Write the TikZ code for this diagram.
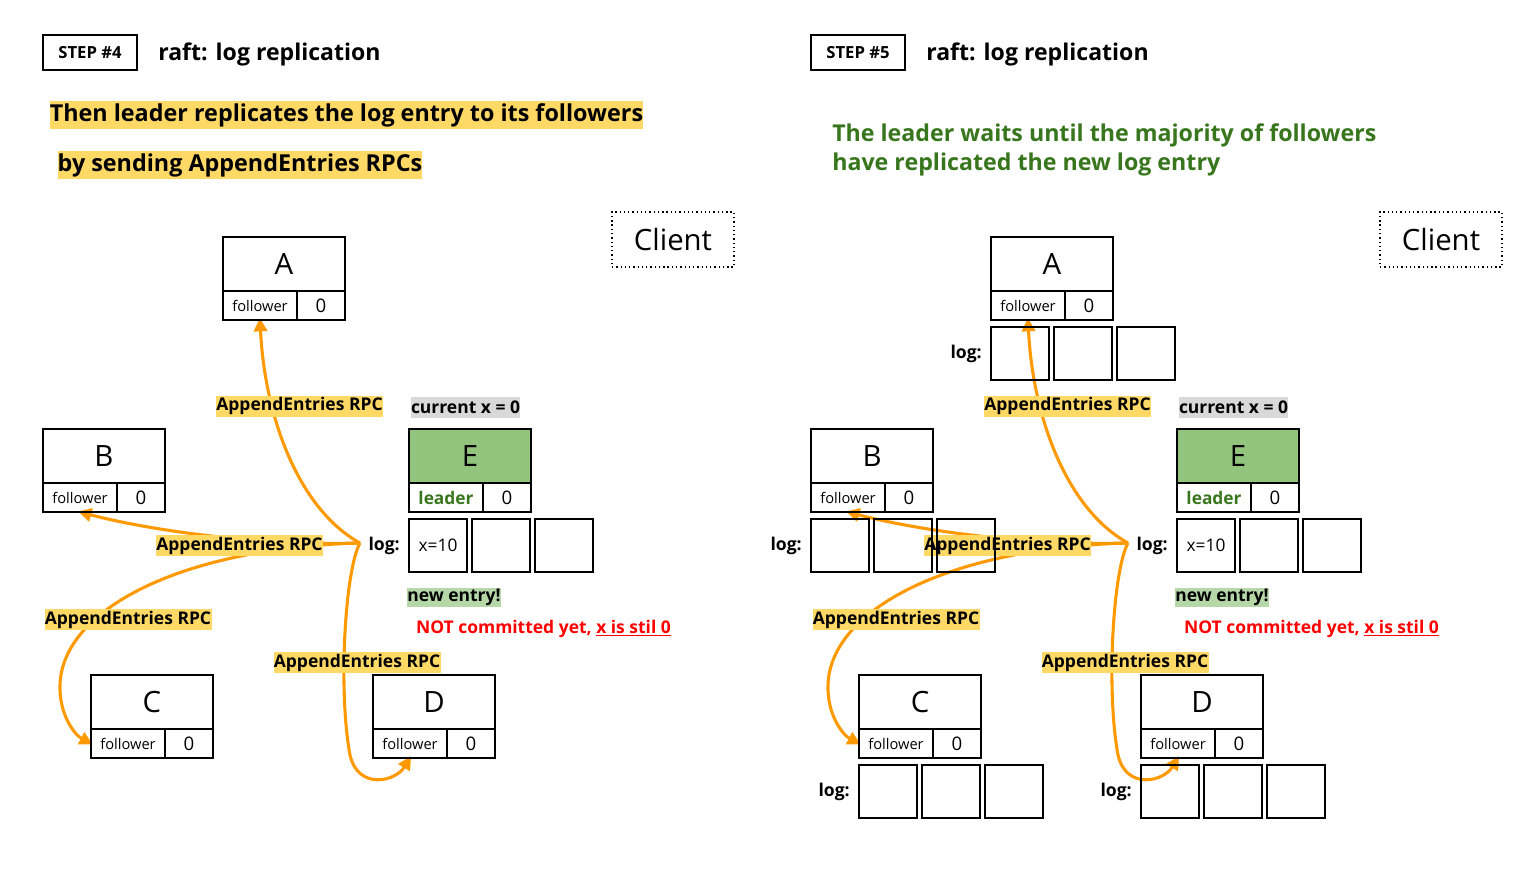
\documentclass[tikz,border=0pt]{standalone}
\usepackage{fontspec}
\setmainfont{Open Sans}
\usetikzlibrary{arrows.meta,positioning,backgrounds}
\definecolor{rpcyellow}{HTML}{FFD966}
\definecolor{rpcorange}{HTML}{FF9900}
\definecolor{leadergreen}{HTML}{93C47D}
\definecolor{textgreen}{HTML}{38761D}
\definecolor{newgreen}{HTML}{B6D7A8}
\definecolor{curgray}{HTML}{D9D9D9}

\begin{document}
\begin{tikzpicture}[x=0.75pt,y=-0.75pt,
    srvbox/.style={draw,line width=0.8pt,inner sep=0pt,outer sep=0pt},
    srvname/.style={srvbox,minimum width=91.5pt,minimum height=40.5pt,font=\fontsize{22}{26}\selectfont},
    srvrole/.style={srvbox,minimum width=55.5pt,minimum height=21.75pt,anchor=north west,font=\fontsize{11}{13}\selectfont},
    srvterm/.style={srvbox,minimum width=36pt,minimum height=21.75pt,anchor=north west,font=\fontsize{14}{16}\selectfont},
    logcell/.style={srvbox,minimum width=43.5pt,minimum height=39.75pt,font=\fontsize{13}{15}\selectfont},
    loglabel/.style={inner sep=0pt,font=\fontsize{13.2}{15}\selectfont\bfseries},
    rpclabel/.style={fill=rpcyellow,inner sep=0pt,minimum width=125.25pt,minimum height=15.75pt,font=\fontsize{13.1}{15}\selectfont\bfseries},
    rpcarrow/.style={draw=rpcorange,line width=2.3pt,-{Triangle[length=10pt,width=10pt]},shorten >=-1.5pt},
    stepbox/.style={draw,line width=0.8pt,minimum width=70.5pt,minimum height=26.25pt,inner sep=0pt,font=\fontsize{12.5}{14}\selectfont\bfseries},
    headline/.style={anchor=west,inner sep=0pt,font=\fontsize{17.3}{21}\selectfont\bfseries},
    marker/.style={inner sep=0pt,minimum height=21pt,font=\fontsize{17.5}{21}\selectfont\bfseries},
    clientbox/.style={draw,line width=0.9pt,dash pattern=on 1pt off 2.2pt,minimum width=91.5pt,minimum height=41.25pt,font=\fontsize{22}{26}\selectfont},
    status/.style={inner sep=0pt,minimum height=15.75pt,font=\fontsize{13.1}{15}\selectfont\bfseries}]
  \useasboundingbox (0,0) rectangle (1535,875);

  % step 4 heading
  \node[stepbox] (Lstep) at (90,52.5) {STEP \#4};
  \node[headline] (Ltitle) at (158,54) {raft: log replication};
  \node[marker,fill=rpcyellow,minimum width=444.75pt] (Lsay1) at (346.5,115) {Then leader replicates the log entry to its followers};
  \node[marker,fill=rpcyellow,minimum width=273pt] (Lsay2) at (240,165) {by sending AppendEntries RPCs};

  % step 5 heading
  \node[stepbox] (Rstep) at (858,52.5) {STEP \#5};
  \node[headline] (Rtitle) at (926,54) {raft: log replication};
  \node[headline,text=textgreen,font=\fontsize{17.4}{21}\selectfont\bfseries] (Rsay1) at (832,135) {The leader waits until the majority of followers};
  \node[headline,text=textgreen,font=\fontsize{17.4}{21}\selectfont\bfseries] (Rsay2) at (832,164) {have replicated the new log entry};

  \foreach \side/\dx in {L/0,R/768}{
    % labels
    \node[rpclabel] (\side rpcA) at (299.5+\dx,406) {AppendEntries RPC};
    \node[rpclabel] (\side rpcB) at (239.5+\dx,545.5) {AppendEntries RPC};
    \node[rpclabel] (\side rpcC) at (128+\dx,619.5) {AppendEntries RPC};
    \node[rpclabel] (\side rpcD) at (357+\dx,662.5) {AppendEntries RPC};
    \node[status,fill=curgray,minimum width=81.75pt] (\side cur) at (465.5+\dx,407.5) {current x = 0};
    \node[status,fill=newgreen,minimum width=69pt,minimum height=14.25pt] (\side new) at (454+\dx,597.5) {new entry!};
    \node[status,text=red] (\side nc) at (543.5+\dx,628.5) {NOT committed yet, \underline{x is stil 0}};
    \node[clientbox] (\side client) at (673+\dx,239.5) {Client};

    % servers
    \foreach \srv/\sx/\sy in {A/284/264,B/104/456,C/152/702,D/434/702}{
      \node[srvname] (\side\srv) at (\sx+\dx,\sy) {\srv};
      \node[srvrole] (\side\srv role) at (\side\srv.south west) {follower};
      \node[srvterm] (\side\srv term) at (\side\srv role.north east) {0};
    }
    \node[srvname,fill=leadergreen] (\side E) at (470+\dx,456) {E};
    \node[srvrole,text=textgreen,font=\fontsize{13}{15}\selectfont\bfseries] (\side Erole) at (\side E.south west) {leader};
    \node[srvterm] (\side Eterm) at (\side Erole.north east) {0};
    \node[logcell,below=5.25pt of \side Erole.south west,anchor=north west] (\side Elog1) {x=10};
    \node[logcell,right=3.75pt of \side Elog1] (\side Elog2) {};
    \node[logcell,right=3.75pt of \side Elog2] (\side Elog3) {};
    \node[loglabel,left=6.75pt of \side Elog1] (\side Eloglbl) {log:};

    % AppendEntries from the leader
    \coordinate (\side fork) at (360+\dx,543);
    \begin{scope}[on background layer]
      \draw[rpcarrow] (\side fork) .. controls (300+\dx,510) and (265+\dx,420) .. (\side Arole.south);
      \draw[rpcarrow] (\side fork) .. controls (250+\dx,546) and (140+\dx,528) .. (\side Brole.south);
      \draw[rpcarrow] (\side fork) .. controls (180+\dx,548) and (62+\dx,610) .. (60+\dx,685)
        .. controls (59+\dx,715) and (75+\dx,735) .. (\side Crole.west);
      \draw[rpcarrow] (\side fork) .. controls (345+\dx,570) and (338+\dx,690) .. (350+\dx,755)
        .. controls (358+\dx,790) and (395+\dx,782) .. (\side Drole.south);
    \end{scope}
  }

  % follower logs in step 5
  \foreach \srv in {A,B,C,D}{
    \node[logcell,below=5.25pt of R\srv role.south west,anchor=north west] (R\srv log1) {};
    \node[logcell,right=3.75pt of R\srv log1] (R\srv log2) {};
    \node[logcell,right=3.75pt of R\srv log2] (R\srv log3) {};
    \node[loglabel,left=6.75pt of R\srv log1] (R\srv loglbl) {log:};
  }
\end{tikzpicture}
\end{document}
